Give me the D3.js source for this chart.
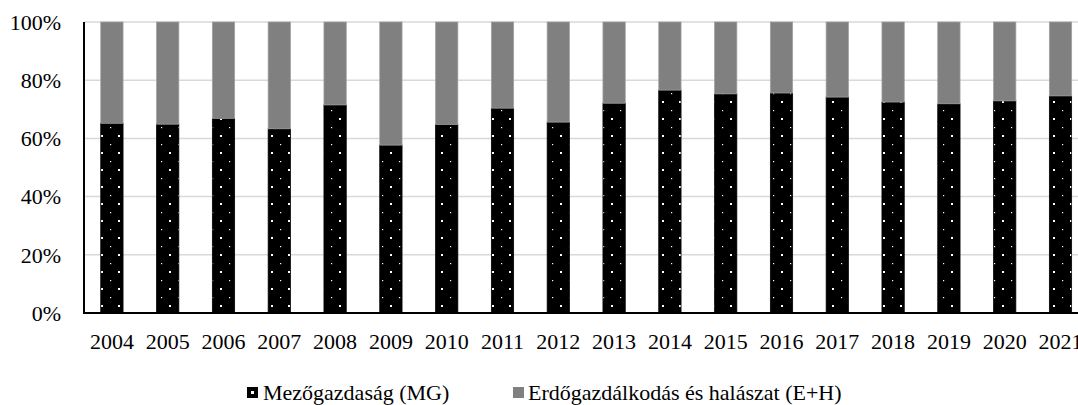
<!DOCTYPE html>
<html>
<head>
<meta charset="utf-8">
<script src="https://cdn.jsdelivr.net/npm/d3@7"></script>
<style>
  html, body { margin: 0; padding: 0; background: #fff; }
  svg { display: block; }
</style>
</head>
<body>
<svg id="chart" width="1078" height="405" font-family="'Liberation Serif', 'Times New Roman', 'DejaVu Serif', serif"></svg>
<script>
const years = ["2004","2005","2006","2007","2008","2009","2010","2011","2012","2013","2014","2015","2016","2017","2018","2019","2020","2021"];
const mgValues = [65.2, 64.9, 66.9, 63.3, 71.5, 57.7, 64.8, 70.4, 65.6, 72.1, 76.6, 75.3, 75.6, 74.2, 72.5, 71.9, 72.9, 74.6];
const ehValues = [34.8, 35.1, 33.1, 36.7, 28.5, 42.3, 35.2, 29.6, 34.4, 27.9, 23.4, 24.7, 24.4, 25.8, 27.5, 28.1, 27.1, 25.4];
const yTicks = [0, 20, 40, 60, 80, 100];
const seriesNames = ["Mezőgazdaság (MG)", "Erdőgazdálkodás és halászat (E+H)"];

(function () {
const svg = d3.select("#chart");
const W = 1078;
const plotLeft = 84, plotTop = 22, plotBottom = 313;
const step = 55.8;
const FONT = "'Liberation Serif', 'Times New Roman', 'DejaVu Serif', serif";

const x = d3.scaleBand().domain(years)
  .range([plotLeft, plotLeft + step * years.length])
  .paddingInner(0.6).paddingOuter(0.3);
const y = d3.scaleLinear().domain([0, 100]).range([plotBottom, plotTop]);

// pattern
const defs = svg.append("defs");
const pat = defs.append("pattern").attr("id", "dots")
  .attr("patternUnits", "userSpaceOnUse")
  .attr("x", -1).attr("y", -1).attr("width", 17).attr("height", 17);
pat.append("rect").attr("width", 17).attr("height", 17).attr("fill", "#000");
pat.append("rect").attr("x", 0).attr("y", 0).attr("width", 2).attr("height", 2).attr("fill", "#fff");
pat.append("rect").attr("x", 9).attr("y", 9).attr("width", 1.2).attr("height", 1.2).attr("fill", "#fff");

// gridlines
svg.append("g").selectAll("line").data(yTicks.filter(d => d > 0)).join("line")
  .attr("x1", plotLeft).attr("x2", W)
  .attr("y1", d => y(d)).attr("y2", d => y(d))
  .attr("stroke", "#d9d9d9").attr("stroke-width", 1.5);

// stacked bars
const table = years.map((yr, i) => ({ year: yr, mg: mgValues[i], eh: ehValues[i] }));
const stack = d3.stack().keys(["mg", "eh"])(table);
const fills = ["url(#dots)", "#808080"];
const strokes = ["#000", "#a0a0a0"];

svg.append("g").selectAll("g").data(stack).join("g")
  .attr("fill", (d, i) => fills[i])
  .attr("stroke", (d, i) => strokes[i])
  .attr("stroke-width", 0.75)
  .selectAll("rect").data(d => d).join("rect")
  .attr("x", d => x(d.data.year))
  .attr("width", x.bandwidth())
  .attr("y", d => y(d[1]))
  .attr("height", d => y(d[0]) - y(d[1]));

// axes lines
svg.append("line").attr("x1", plotLeft).attr("x2", plotLeft).attr("y1", plotTop).attr("y2", plotBottom + 1)
  .attr("stroke", "#000").attr("stroke-width", 2);
svg.append("line").attr("x1", plotLeft - 1).attr("x2", W).attr("y1", plotBottom).attr("y2", plotBottom)
  .attr("stroke", "#000").attr("stroke-width", 2);

// y labels
svg.append("g").selectAll("text").data(yTicks).join("text")
  .attr("x", 61).attr("y", d => y(d))
  .attr("dy", "0.35em")
  .attr("text-anchor", "end")
  .attr("font-family", FONT)
  .attr("font-size", 22)
  .attr("fill", "#000")
  .text(d => d + "%");

// x labels
svg.append("g").selectAll("text").data(years).join("text")
  .attr("x", d => x(d) + x.bandwidth() / 2)
  .attr("y", 349)
  .attr("text-anchor", "middle")
  .attr("font-family", FONT)
  .attr("font-size", 22)
  .attr("fill", "#000")
  .text(d => d);

// legend
const legendItems = [
  { name: seriesNames[0], mx: 247, tx: 263, kind: 0 },
  { name: seriesNames[1], mx: 513, tx: 528, kind: 1 }
];
const lg = svg.append("g");
legendItems.forEach(it => {
  if (it.kind === 0) {
    lg.append("rect").attr("x", it.mx).attr("y", 387).attr("width", 11).attr("height", 11).attr("fill", "#000");
    lg.append("rect").attr("x", it.mx + 4).attr("y", 391).attr("width", 3).attr("height", 3).attr("fill", "#fff");
  } else {
    lg.append("rect").attr("x", it.mx).attr("y", 387).attr("width", 11).attr("height", 11).attr("fill", "#808080");
  }
  lg.append("text").attr("x", it.tx).attr("y", 399.5)
    .attr("font-family", FONT).attr("font-size", 22).attr("fill", "#000").text(it.name);
});
})();
</script>
</body>
</html>
